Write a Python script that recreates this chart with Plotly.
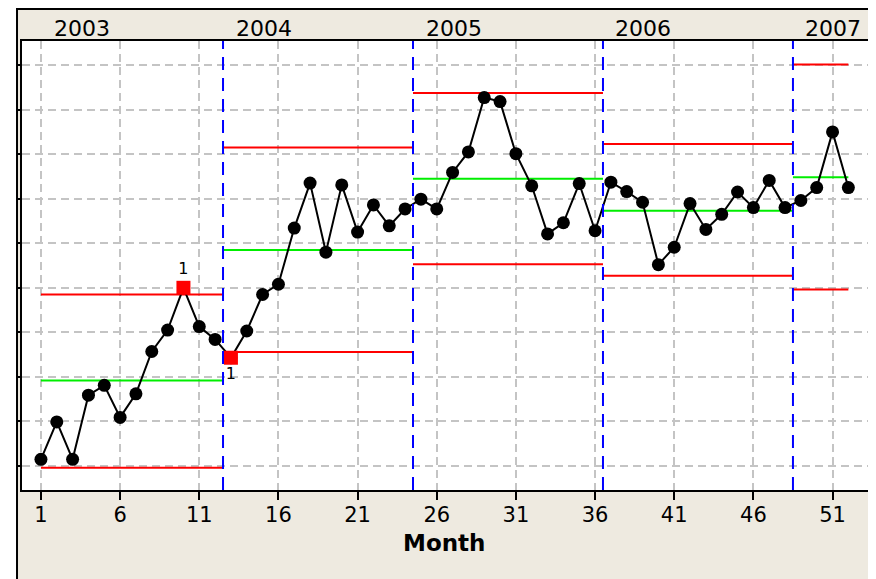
import plotly.graph_objects as go

# Monthly values (arbitrary units)
months = list(range(1, 53))
values = [11.5, 19.9, 11.5, 25.9, 28.1, 20.9, 26.2, 35.7, 40.5, 50.0, 41.3, 38.4,
          34.3, 40.3, 48.5, 50.8, 63.4, 73.5, 58.0, 73.1, 62.5, 68.6, 63.9, 67.7,
          69.9, 67.7, 75.9, 80.5, 92.7, 91.8, 80.1, 72.9, 62.1, 64.6, 73.4, 62.8,
          73.7, 71.6, 69.2, 55.2, 59.1, 68.9, 63.1, 66.5, 71.5, 68.0, 74.1, 68.0,
          69.6, 72.5, 85.0, 72.5]

# Stages (one per year)
years = ["2003", "2004", "2005", "2006", "2007"]
stage_start = [1, 12.5, 24.5, 36.5, 48.5]
stage_end = [12.5, 24.5, 36.5, 48.5, 52]
year_label_x = [3.6, 15.1, 27.1, 39.05, 51.0]
ucl = [48.5, 81.5, 93.7, 82.3, 100.1]
center = [29.2, 58.5, 74.5, 67.3, 74.8]
lcl = [9.6, 35.6, 55.3, 52.7, 49.6]

# Out of control points (test 1)
flag_months = [10, 13]
flag_pos = ["top center", "bottom center"]

x_ticks = list(range(1, 52, 5))
y_grid = list(range(10, 101, 10))

BEIGE = "#EEEAE0"
FONT = "DejaVu Sans"

# page is offset by the 8px body margin, so work in page pixels and shift
OFF = 8
W, H = 876 - OFF, 579 - OFF
L, R, T, B = 22 - OFF, 870 - OFF, 41 - OFF, 490 - OFF


def px(x):
    # page pixel -> paper x
    return (x - OFF - L) / (R - L)


def py(y):
    # page pixel -> paper y
    return (B - (y - OFF)) / (B - T)


def segments(levels):
    xs, ys = [], []
    for s, e, v in zip(stage_start, stage_end, levels):
        xs += [s, e, None]
        ys += [v, v, None]
    return xs, ys


fig = go.Figure()

for levels, color in [(ucl, "#FF0000"), (lcl, "#FF0000"), (center, "#00EE00")]:
    sx, sy = segments(levels)
    fig.add_trace(go.Scatter(x=sx, y=sy, mode="lines",
                             line=dict(color=color, width=2),
                             hoverinfo="skip", showlegend=False))

fig.add_trace(go.Scatter(x=months, y=values, mode="lines+markers",
                         line=dict(color="black", width=2),
                         marker=dict(color="black", size=13, symbol="circle"),
                         showlegend=False))

fig.add_trace(go.Scatter(x=flag_months, y=[values[m - 1] for m in flag_months],
                         mode="markers+text", text=["1", "1"],
                         textposition=flag_pos,
                         textfont=dict(family=FONT, size=16, color="black"),
                         marker=dict(color="#FF0000", size=14, symbol="square"),
                         showlegend=False))

# stage separators
for b in stage_start[1:]:
    fig.add_shape(type="line", xref="x", yref="paper", x0=b, x1=b, y0=0, y1=1,
                  line=dict(color="#0000FF", width=2, dash="13px,8px"))

# year labels
for yr, xl in zip(years, year_label_x):
    fig.add_annotation(text=yr, x=xl, xref="x", y=py(28), yref="paper",
                       showarrow=False, yanchor="middle",
                       font=dict(family=FONT, size=22, color="black"))

fig.add_annotation(text="<b>Month</b>", x=px(445), xref="paper", y=py(543), yref="paper",
                   showarrow=False, yanchor="middle",
                   font=dict(family=FONT, size=23, color="black"))

# white area left of the outer frame, then the frame itself
fig.add_shape(type="rect", xref="paper", yref="paper", layer="above",
              x0=px(OFF - 2), x1=px(17), y0=py(600), y1=py(0), fillcolor="white", line_width=0)
fig.add_shape(type="rect", xref="paper", yref="paper", layer="above",
              x0=px(872), x1=px(890), y0=py(600), y1=py(0), fillcolor="white", line_width=0)
fig.add_shape(type="rect", xref="paper", yref="paper", layer="above",
              x0=px(17), x1=px(872), y0=py(600), y1=py(OFF + 1), fillcolor="rgba(0,0,0,0)",
              line=dict(color="black", width=2))

fig.update_xaxes(range=[-0.197, 53.24], tickvals=x_ticks, ticks="outside", ticklen=8,
                 tickwidth=2, tickcolor="black", ticklabelstandoff=-3,
                 tickfont=dict(family=FONT, size=21, color="black"),
                 showgrid=True, gridcolor="#C4C4C4", gridwidth=1.5, griddash="8px,5px",
                 showline=True, linecolor="black", linewidth=2, mirror=True, zeroline=False)
fig.update_yaxes(range=[4.61, 105.4], tickvals=y_grid, showticklabels=False,
                 ticks="outside", ticklen=5, tickwidth=2, tickcolor="black",
                 showgrid=True, gridcolor="#C4C4C4", gridwidth=1.5, griddash="8px,5px",
                 showline=True, linecolor="black", linewidth=2, mirror=True, zeroline=False)

fig.update_layout(width=W, height=H, margin=dict(l=L, r=W - R, t=T, b=H - B),
                  paper_bgcolor=BEIGE, plot_bgcolor="white", showlegend=False,
                  font=dict(family=FONT))

fig.write_html("out.html")
